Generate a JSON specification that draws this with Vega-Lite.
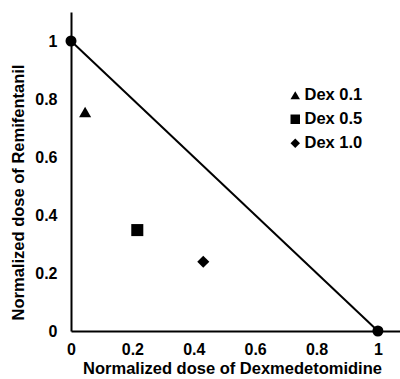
{
  "$schema": "https://vega.github.io/schema/vega-lite/v6.json",
  "width": 329,
  "height": 319,
  "autosize": "none",
  "padding": {"left": 71, "top": 12, "right": 0, "bottom": 48},
  "background": "white",
  "config": {
    "view": {"stroke": null},
    "font": "Liberation Sans",
    "axis": {
      "grid": false,
      "ticks": false,
      "domainColor": "black",
      "domainWidth": 2,
      "labelFont": "Liberation Sans",
      "labelFontWeight": "bold",
      "labelFontSize": 16,
      "labelColor": "black",
      "titleFont": "Liberation Sans",
      "titleFontWeight": "bold",
      "titleFontSize": 16.5,
      "titleColor": "black"
    }
  },
  "datasets": {
    "pts": [
      {"dex": 0.046, "remi": 0.755, "group": "Dex 0.1"},
      {"dex": 0.216, "remi": 0.348, "group": "Dex 0.5"},
      {"dex": 0.431, "remi": 0.239, "group": "Dex 1.0"}
    ],
    "line": [
      {"dex": 0, "remi": 1},
      {"dex": 1, "remi": 0}
    ]
  },
  "layer": [
    {
      "data": {"name": "line"},
      "mark": {"type": "line", "color": "black", "strokeWidth": 2, "clip": false},
      "encoding": {
        "x": {
          "field": "dex", "type": "quantitative",
          "scale": {"domain": [0, 1.072], "nice": false, "zero": false},
          "axis": {"values": [0, 0.2, 0.4, 0.6, 0.8, 1], "format": "~g", "labelPadding": 10, "title": "Normalized dose of Dexmedetomidine", "titlePadding": 3, "titleX": 161, "labelFlush": false}
        },
        "y": {
          "field": "remi", "type": "quantitative",
          "scale": {"domain": [0, 1.1], "nice": false, "zero": false},
          "axis": {"values": [0, 0.2, 0.4, 0.6, 0.8, 1], "format": "~g", "labelPadding": 14, "title": "Normalized dose of Remifentanil", "titlePadding": 8, "titleY": 180, "labelFlush": false}
        }
      }
    },
    {
      "data": {"name": "line"},
      "mark": {"type": "point", "shape": "circle", "filled": true, "color": "black", "opacity": 1, "size": 121, "clip": false},
      "encoding": {
        "x": {"field": "dex", "type": "quantitative"},
        "y": {"field": "remi", "type": "quantitative"}
      }
    },
    {
      "data": {"name": "pts"},
      "mark": {"type": "point", "filled": true, "color": "black", "opacity": 1, "size": 145},
      "encoding": {
        "x": {"field": "dex", "type": "quantitative"},
        "y": {"field": "remi", "type": "quantitative"},
        "shape": {
          "field": "group", "type": "nominal",
          "scale": {"domain": ["Dex 0.1", "Dex 0.5", "Dex 1.0"], "range": ["triangle-up", "square", "diamond"]},
          "legend": {
            "title": null,
            "orient": "none",
            "legendX": 216,
            "legendY": 75,
            "padding": 0,
            "rowPadding": 7,
            "symbolSize": 90,
            "symbolFillColor": "black",
            "symbolStrokeColor": "black",
            "symbolOpacity": 1,
            "labelFont": "Liberation Sans",
            "labelFontWeight": "bold",
            "labelFontSize": 16.5,
            "labelColor": "black",
            "labelOffset": 1
          }
        }
      }
    }
  ]
}
